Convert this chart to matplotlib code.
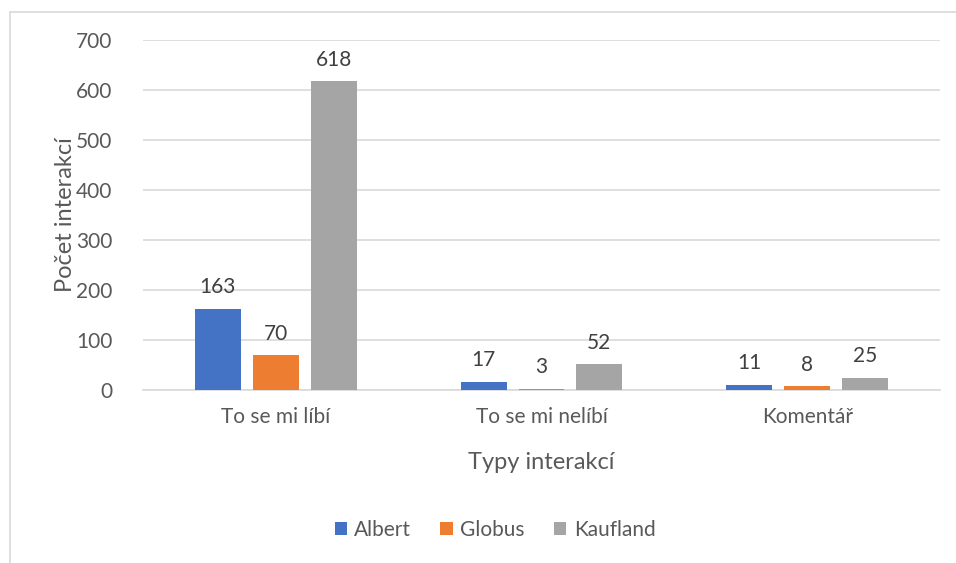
import numpy as np
import matplotlib.pyplot as plt
from matplotlib.patches import Rectangle

categories = ["To se mi líbí", "To se mi nelíbí", "Komentář"]
series_names = ["Albert", "Globus", "Kaufland"]
albert = [163, 17, 11]
globus = [70, 3, 8]
kaufland = [618, 52, 25]
colors = ["#4472C4", "#ED7D31", "#A5A5A5"]

plt.rcParams['font.family'] = ['Lato', 'DejaVu Sans']
txt = "#595959"

fig = plt.figure(figsize=(9.56, 5.63), dpi=100)
ax = fig.add_axes([143/956, 1-390/563, 797/956, 350/563])

# outer chart border
fig.patches.append(Rectangle((10/956, -0.05), 1.1, 1.05 - 12/563, transform=fig.transFigure,
                             fill=False, edgecolor="#d9d9d9", linewidth=1.2))

x = np.arange(len(categories))
width = 0.173
step = 0.218
for i, (vals, name) in enumerate(zip([albert, globus, kaufland], series_names)):
    pos = x + (i - 1) * step
    ax.bar(pos, vals, width, color=colors[i], label=name, zorder=3)
    for p, v in zip(pos, vals):
        ax.annotate(str(v), (p, v), xytext=(0, 8), textcoords="offset points",
                    ha="center", va="bottom", fontsize=15, color="#404040")

ax.set_xlim(-0.5, 2.5)
ax.set_ylim(0, 700)
ax.set_yticks(range(0, 701, 100))
ax.grid(axis="y", color="#d9d9d9", linewidth=1.2, zorder=0)
for s in ["top", "right", "left"]:
    ax.spines[s].set_visible(False)
ax.spines["bottom"].set_color("#d9d9d9")
ax.spines["bottom"].set_linewidth(1.2)
ax.set_xticks(x)
ax.set_xticklabels(categories)
ax.tick_params(axis="both", length=0, labelsize=15, labelcolor=txt)
ax.tick_params(axis="x", pad=12)
ax.tick_params(axis="y", pad=22)
ax.set_xlabel("Typy interakcí", fontsize=17, color=txt, labelpad=18)
ax.set_ylabel("Počet interakcí", fontsize=17, color=txt, labelpad=0)

ax.legend(loc="center", bbox_to_anchor=(495/956, 1-530/563), bbox_transform=fig.transFigure,
          ncol=3, frameon=False, fontsize=15, handlelength=0.6, handleheight=0.6,
          handletextpad=0.35, columnspacing=1.4, labelcolor=txt)

fig.savefig("out.png", dpi=100)
